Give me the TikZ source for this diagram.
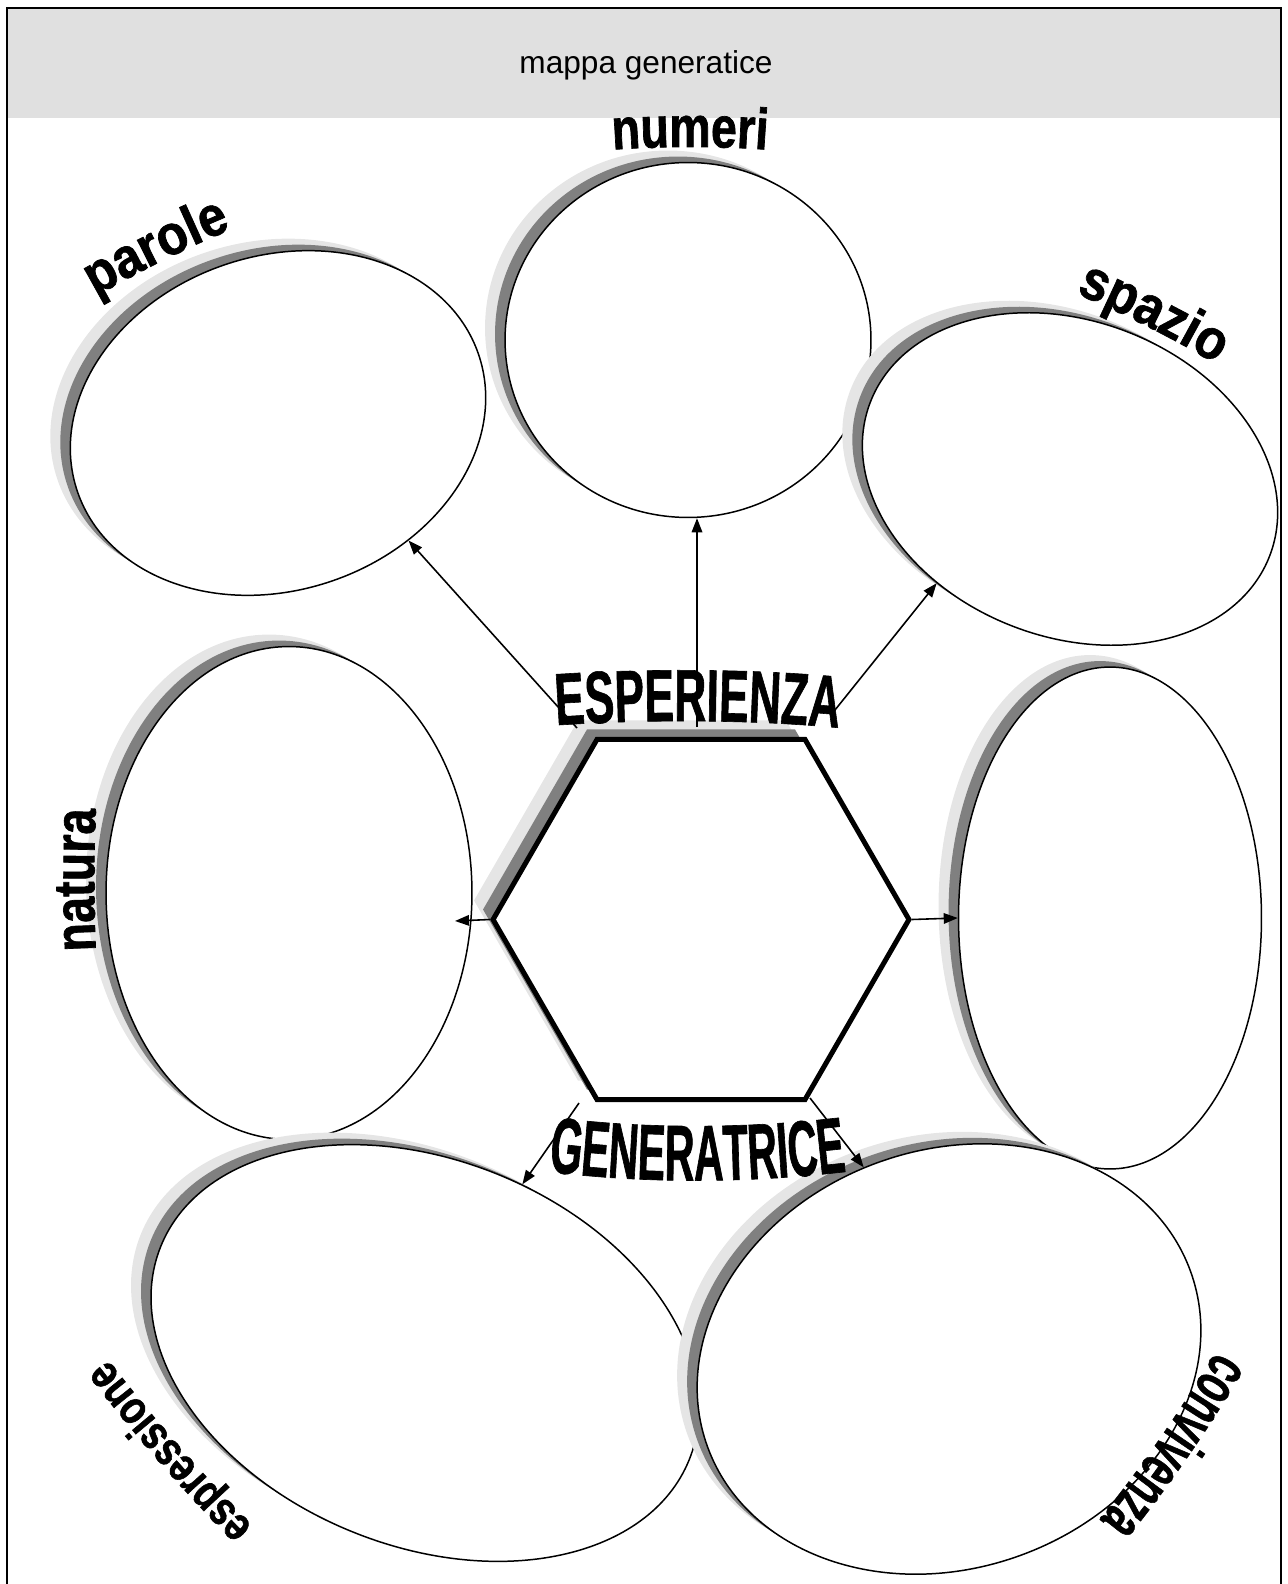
\documentclass[tikz,border=0pt]{standalone}
\usepackage{fontspec}
\setmainfont{Liberation Sans}
\newfontfamily\wafont{Liberation Sans}[FakeStretch=0.9, FakeBold=1.2]
\newfontfamily\wamid{Liberation Sans}[FakeStretch=0.8, FakeBold=1.2]
\newfontfamily\wanarrow{Liberation Sans}[FakeStretch=0.6, FakeBold=0.8]
\newfontfamily\waxnarrow{Liberation Sans}[FakeStretch=0.52, FakeBold=0.8]
\usetikzlibrary{
	arrows.meta,
	calc,
	shapes.geometric,
	decorations.text
}
\definecolor{headgray}{gray}{0.88}
\definecolor{shadelight}{gray}{0.9}
\definecolor{shadedark}{gray}{0.5}
\newcommand\lblwide{\wafont\bfseries\fontsize{32}{32}\selectfont}
\newcommand\lblmid{\wamid\bfseries\fontsize{33}{33}\selectfont}
\newcommand\lblsmall{\wamid\bfseries\fontsize{27}{27}\selectfont}
\newcommand\lblnarrow{\wanarrow\bfseries\fontsize{36}{36}\selectfont}
\newcommand\bigtop{\wanarrow\bfseries\fontsize{42}{42}\selectfont}
\newcommand\bigbottom{\waxnarrow\bfseries\fontsize{45}{45}\selectfont}
\tikzset{
	bubble/.style={ellipse, inner sep=0pt, draw=black, line width=0.85pt, fill=white},
	hexa/.style={regular polygon, regular polygon sides=6, minimum size=8.32cm, inner sep=0pt},
	arr/.style={-{Triangle[length=8pt,width=6pt]}, line width=0.9pt},
	warp/.style={decorate, decoration={text along path, text align=center, text={#1}}}
}
\begin{document}
\begin{tikzpicture}[x=0.02cm, y=-0.02cm]
		\useasboundingbox (0,0) rectangle (1287,1584);
		% header and frame
		\fill[headgray] (7,8) rectangle (1281,118);
		\draw[line width=1.1pt] (7,1584) -- (7,8) -- (1281,8) -- (1281,1584);
		\node (title) at (646,65) {\fontsize{18}{18}\selectfont mappa generatice};
		% bubbles with their shadows
		\foreach \n/\x/\y/\w/\h/\r in {parole/278/423/8.48/6.68/19, numeri/688/340/7.32/7.10/0,
			spazio/1070/479/8.56/6.32/-21, natura/289/893/7.32/9.86/0, blank/1110/918/6.06/10.04/0,
			espressione/425/1353/11.4/7.72/-22, convivenza/949/1359/10.28/8.36/20}{
			\node[bubble, draw=none, fill=shadelight, minimum width=\w cm, minimum height=\h cm, rotate=\r] (\n-l) at (\x-20,\y-12) {};
			\node[bubble, draw=none, fill=shadedark, minimum width=\w cm, minimum height=\h cm, rotate=\r] (\n-d) at (\x-10,\y-6) {};
			\node[bubble, minimum width=\w cm, minimum height=\h cm, rotate=\r] (\n) at (\x,\y) {};
		}
		% hexagon
		\node[hexa, fill=shadelight] (hex-l) at (682,900.5) {};
		\node[hexa, fill=shadedark] (hex-d) at (691,909.5) {};
		\node[hexa, fill=white, draw, line width=2.85pt] (hex) at (701,919.5) {};
		% arrows
		\coordinate (s-parole) at (577,728);
		\coordinate (s-numeri) at (697,727);
		\coordinate (s-spazio) at (835,710);
		\coordinate (t-natura) at (455,921);
		\coordinate (s-espr) at (579,1103);
		\coordinate (s-conv) at (810,1098);
		\draw[arr] (s-parole) -- (parole.-61);
		\draw[arr] (s-numeri) -- (s-numeri |- numeri.south);
		\draw[arr] (s-spazio) -- (spazio.239);
		\draw[arr] (hex.corner 3) -- (t-natura);
		\draw[arr] (hex.corner 6) -- (blank.west);
		\draw[arr] (s-espr) -- (espressione.82);
		\draw[arr] (s-conv) -- (convivenza.94);
		% curved titles
		\path[warp={|\bigtop|ESPERIENZA}] (545,726) .. controls (640,719) and (755,719) .. (850,729);
		\path[warp={|\bigbottom|GENERATRICE}] (535,1170) .. controls (640,1184) and (750,1184) .. (860,1170);
		\path[warp={|\lblmid|numeri}] (580,153) .. controls (640,145) and (740,145) .. (800,153);
		\path[warp={|\lblwide|parole}] (72,310) .. controls (131,275) and (192,244) .. (257,219);
		\path[warp={|\lblwide|spazio}] (1058,286) .. controls (1118,310) and (1177,340) .. (1233,374);
		\path[warp={|\lblmid|natura}] (98,990) .. controls (93,920) and (93,840) .. (98,770);
		\path[warp={|\lblsmall|espressione}] (273,1546) .. controls (207,1481) and (146,1411) .. (91,1337);
		\path[warp={|\lblnarrow|convivenza}] (1231,1324) .. controls (1188,1402) and (1137,1475) .. (1080,1543);
	\end{tikzpicture}
\end{document}
